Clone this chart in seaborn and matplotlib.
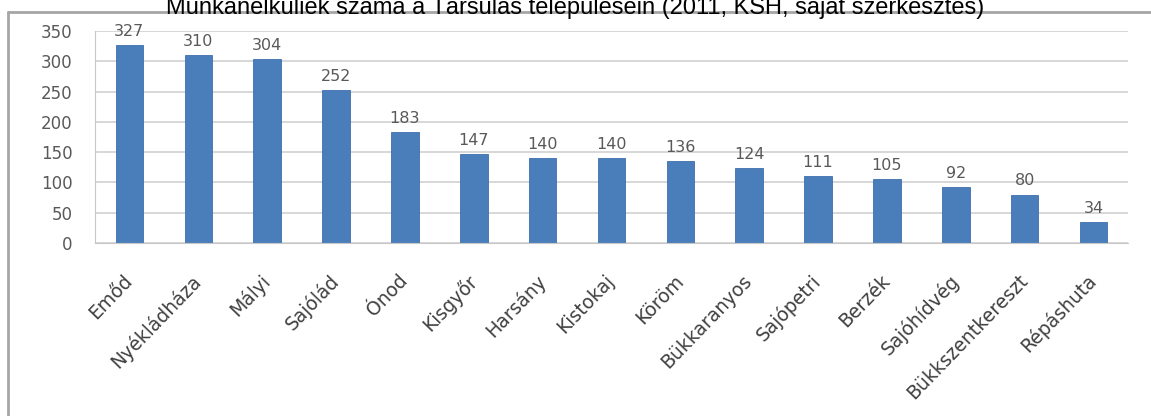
import matplotlib
matplotlib.use("Agg")
import numpy as np
import pandas as pd
import matplotlib.pyplot as plt
import seaborn as sns

# data
towns = ["Emőd", "Nyékládháza", "Mályi", "Sajólád", "Ónod", "Kisgyőr", "Harsány",
         "Kistokaj", "Köröm", "Bükkaranyos", "Sajópetri", "Berzék", "Sajóhídvég",
         "Bükkszentkereszt", "Répáshuta"]
unemployed = [327, 310, 304, 252, 183, 147, 140, 140, 136, 124, 111, 105, 92, 80, 34]
yticks = [0, 50, 100, 150, 200, 250, 300, 350]

df = pd.DataFrame({"town": towns, "n": unemployed})

sns.set_style("white")
plt.rcParams["font.family"] = ["DejaVu Sans"]

fig = plt.figure(figsize=(11.51, 4.16), dpi=100)
ax = fig.add_axes([95 / 1151, 1 - 243 / 416, (1128 - 95) / 1151, (243 - 31) / 416])

sns.barplot(data=df, x="town", y="n", color="#4a7ebb", width=0.4, saturation=1,
            edgecolor="#3f6fae", linewidth=0.6, ax=ax)

# value labels above bars
for i, v in enumerate(unemployed):
    ax.text(i, v + 10, str(v), ha="center", va="bottom", fontsize=11.5, color="#595959")

ax.set_ylim(0, 350)
ax.set_xlim(-0.5, len(towns) - 0.5)
ax.set_yticks(yticks)
ax.yaxis.grid(True, color="#d4d4d4", linewidth=1.3)
ax.set_axisbelow(True)
ax.set_xlabel("")
ax.set_ylabel("")
for s in ["top", "right"]:
    ax.spines[s].set_visible(False)
ax.spines["left"].set_color("#c8c8c8")
ax.spines["bottom"].set_color("#c8c8c8")
ax.tick_params(axis="y", labelsize=12, labelcolor="#595959", pad=16, length=0)
ax.tick_params(axis="x", labelsize=13.5, labelcolor="#404040", length=0, pad=25)
ax.set_xticks(np.arange(-0.5, len(towns)), minor=True)
ax.tick_params(axis="x", which="minor", length=5, color="#d4d4d4")
plt.setp(ax.get_xticklabels(), rotation=46, ha="right", va="center", rotation_mode="anchor")

# chart frame (left and top border, as in the clipped original)
fig.add_artist(plt.Line2D([8 / 1151, 8 / 1151], [0, 1 - 12 / 416], color="#a6a6a6", lw=2))
fig.add_artist(plt.Line2D([8 / 1151, 1], [1 - 12 / 416, 1 - 12 / 416], color="#a6a6a6", lw=2))

fig.text(0.5, 1 - 14 / 416, "Munkanélküliek száma a Társulás településein (2011, KSH, saját szerkesztés)",
         ha="center", va="baseline", fontsize=17, color="#000000", family=["Liberation Sans"])

plt.savefig("out.png", dpi=100)
